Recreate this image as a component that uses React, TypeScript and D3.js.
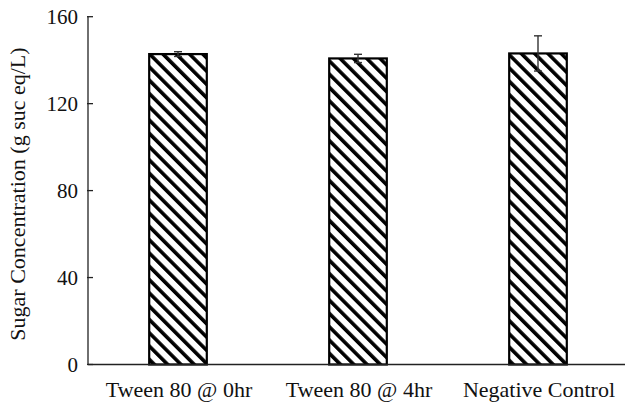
import React from "react";
import * as d3 from "d3";

// values
const categories = ["Tween 80 @ 0hr", "Tween 80 @ 4hr", "Negative Control"];
const sugar = [142.8, 140.8, 143.1];
const sugarErr = [1.1, 1.9, 8.1];
const yTicks = [0, 40, 80, 120, 160];
const yLabel = "Sugar Concentration (g suc eq/L)";

const W = 625;
const H = 403;
const font = "Liberation Serif, DejaVu Serif, serif";

export default function App() {
  const x = d3
    .scaleBand<string>()
    .domain(categories)
    .range([88, 628])
    .paddingInner(0.68)
    .paddingOuter(0.34);
  const y = d3.scaleLinear().domain([0, 160]).range([364.5, 16.7]);

  const bw = x.bandwidth();
  const txt = { fontFamily: font, fill: "#111" };

  return (
    <svg
      width={W}
      height={H}
      style={{ position: "absolute", left: 0, top: 0, display: "block", background: "#fff" }}
    >
      <defs>
        <pattern
          id="hatch"
          patternUnits="userSpaceOnUse"
          width={9.4}
          height={9.4}
          patternTransform="rotate(-45)"
        >
          <rect x={0} y={0} width={9.4} height={9.4} fill="#fff" />
          <rect x={0} y={0} width={3.6} height={9.4} fill="#000" />
        </pattern>
      </defs>

      {/* bars */}
      {categories.map((c, i) => (
        <rect
          key={c}
          x={x(c)}
          y={y(sugar[i])}
          width={bw}
          height={y(0) - y(sugar[i])}
          fill="url(#hatch)"
          stroke="#000"
          strokeWidth={2.2}
        />
      ))}

      {/* error bars */}
      {categories.map((c, i) => {
        const cx = (x(c) as number) + bw / 2;
        const top = y(sugar[i] + sugarErr[i]);
        const bot = y(sugar[i] - sugarErr[i]);
        return (
          <g key={c} stroke="#333" strokeWidth={1.4}>
            <line x1={cx} x2={cx} y1={top} y2={bot} />
            <line x1={cx - 4} x2={cx + 4} y1={top} y2={top} />
            <line x1={cx - 4} x2={cx + 4} y1={bot} y2={bot} />
          </g>
        );
      })}

      {/* axes */}
      <line x1={88} x2={W} y1={y(0)} y2={y(0)} stroke="#222" strokeWidth={1.3} />
      <line x1={88} x2={88} y1={y(160)} y2={y(0)} stroke="#222" strokeWidth={1.3} />
      {yTicks.map((t) => (
        <g key={t}>
          <line x1={87} x2={93} y1={y(t)} y2={y(t)} stroke="#222" strokeWidth={1.3} />
          <text x={78} y={y(t)} dy="0.35em" textAnchor="end" fontSize={21} style={txt}>
            {t}
          </text>
        </g>
      ))}

      {categories.map((c) => (
        <text
          key={c}
          x={(x(c) as number) + bw / 2 + 1}
          y={396.7}
          textAnchor="middle"
          fontSize={22}
          style={txt}
        >
          {c}
        </text>
      ))}

      <text
        transform={`translate(25,194) rotate(-90)`}
        textAnchor="middle"
        fontSize={22}
        style={txt}
      >
        {yLabel}
      </text>
    </svg>
  );
}
